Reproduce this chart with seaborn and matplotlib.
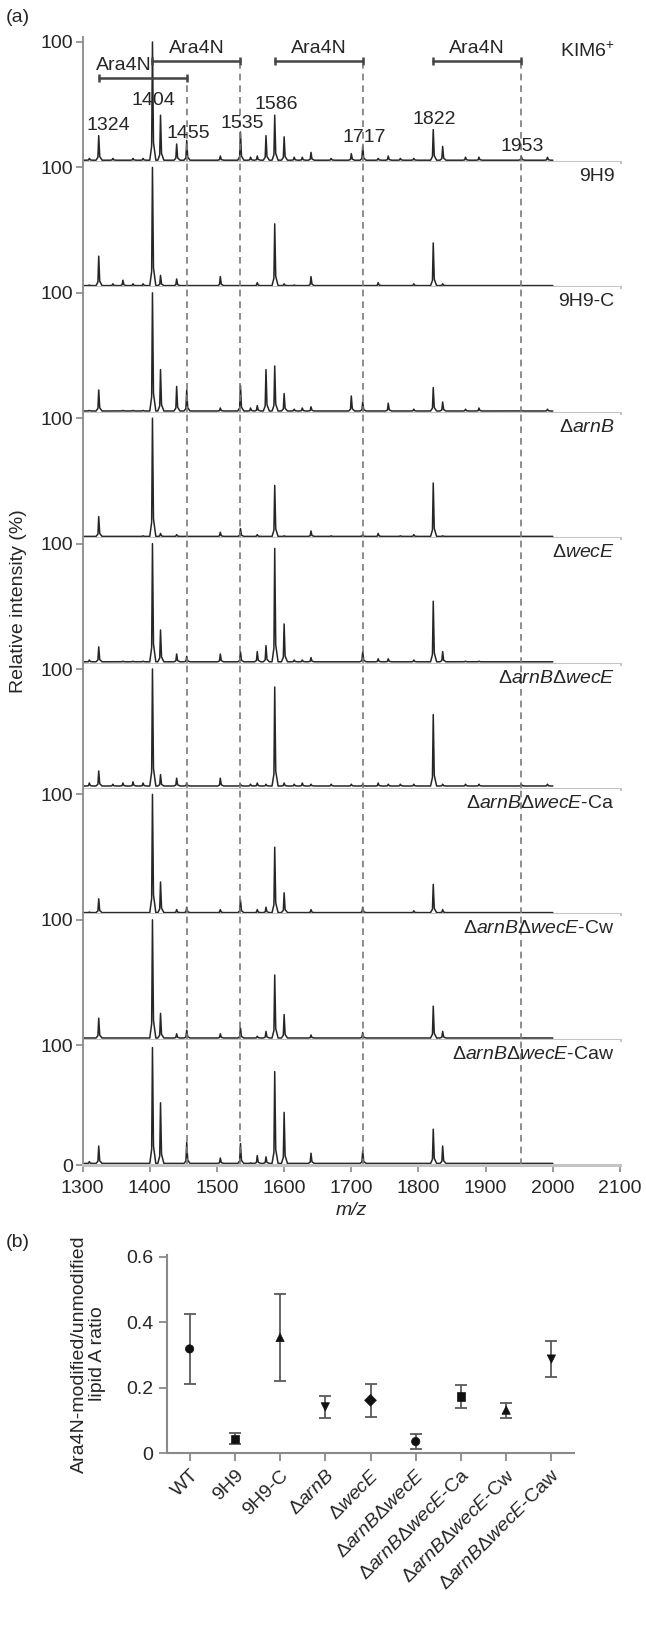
import numpy as np
import pandas as pd
import matplotlib.pyplot as plt
import seaborn as sns

# Style
sns.set_theme(style='white')
plt.rcParams['font.family'] = ['Liberation Sans', 'DejaVu Sans']
plt.rcParams['mathtext.fontset'] = 'custom'
plt.rcParams['mathtext.rm'] = 'Liberation Sans'
plt.rcParams['mathtext.it'] = 'Liberation Sans:italic'
plt.rcParams['mathtext.bf'] = 'Liberation Sans:bold'

FS = 14

# -------------------- data: (a) MALDI spectra --------------------
strain_labels = ['KIM6$^{+}$', '9H9', '9H9-C', r'Δ$\it{arnB}$', r'Δ$\it{wecE}$',
                 r'Δ$\it{arnB}$Δ$\it{wecE}$', r'Δ$\it{arnB}$Δ$\it{wecE}$-Ca',
                 r'Δ$\it{arnB}$Δ$\it{wecE}$-Cw', r'Δ$\it{arnB}$Δ$\it{wecE}$-Caw']

# peak positions (m/z) shared by all spectra
peak_mz = [1310, 1324, 1345, 1360, 1375, 1390, 1404, 1416, 1440, 1455,
           1505, 1535, 1550, 1560, 1573, 1586, 1600, 1615, 1627, 1640,
           1670, 1700, 1717, 1740, 1755, 1773, 1793, 1822, 1836, 1870,
           1890, 1953, 1992]

# relative intensities (%) of those peaks, one list per strain
kim6 = [3, 22, 3, 0, 3, 3, 100, 39, 15, 18, 5, 25, 4, 5, 22, 39, 21, 4, 4, 8,
        3, 7, 13, 3, 5, 3, 3, 27, 13, 4, 4, 5, 4]
h9h9 = [2, 26, 3, 6, 3, 3, 100, 10, 7, 0, 9, 0, 0, 4, 0, 53, 3, 2, 0, 9,
        0, 0, 0, 4, 0, 0, 3, 37, 3, 0, 0, 0, 0]
h9h9c = [2, 19, 0, 2, 2, 2, 100, 36, 22, 19, 4, 23, 4, 6, 36, 39, 16, 3, 4, 5,
         0, 14, 9, 0, 8, 0, 3, 21, 9, 3, 4, 2, 3]
arnB = [0, 18, 0, 0, 0, 2, 100, 4, 3, 0, 5, 8, 0, 3, 0, 44, 2, 0, 0, 6,
        2, 0, 3, 4, 0, 2, 3, 46, 2, 0, 0, 0, 0]
wecE = [3, 14, 0, 2, 2, 2, 100, 28, 8, 6, 8, 10, 0, 10, 15, 96, 33, 3, 3, 5,
        0, 0, 10, 4, 4, 0, 3, 52, 10, 2, 2, 0, 0]
arnB_wecE = [5, 15, 4, 5, 6, 5, 100, 12, 9, 5, 9, 4, 4, 5, 4, 85, 5, 4, 5, 4,
             4, 4, 4, 5, 4, 4, 4, 62, 4, 4, 4, 4, 4]
ca = [2, 13, 0, 0, 0, 0, 100, 27, 4, 6, 4, 12, 0, 4, 6, 56, 18, 0, 0, 4,
      0, 0, 6, 0, 0, 0, 3, 25, 4, 0, 0, 0, 0]
cw = [0, 18, 0, 0, 0, 0, 100, 22, 5, 8, 5, 10, 0, 3, 7, 54, 21, 0, 0, 4,
      0, 0, 6, 0, 0, 0, 0, 28, 7, 0, 0, 0, 0]
caw = [3, 16, 0, 0, 0, 0, 98, 52, 0, 19, 6, 18, 2, 8, 7, 78, 44, 0, 0, 10,
       0, 0, 12, 0, 0, 0, 0, 30, 16, 0, 0, 0, 0]
spectra = [kim6, h9h9, h9h9c, arnB, wecE, arnB_wecE, ca, cw, caw]
baseline = [1.5, 1.5, 1.5, 1.5, 1.5, 2.5, 1.5, 1.5, 1.5]

# annotated peaks in the top spectrum
label_mz = [1324, 1404, 1455, 1535, 1586, 1717, 1822, 1953]
label_y = [30, 51, 24, 32, 48, 20, 35, 13]

# Ara4N mass shifts
ara_start = [1324, 1404, 1586, 1822]
ara_end = [1455, 1535, 1717, 1953]
ara_y = [70, 84, 84, 84]

mz_ticks = [1300, 1400, 1500, 1600, 1700, 1800, 1900, 2000, 2100]

# -------------------- data: (b) ratio --------------------
ratio_labels = ['WT', '9H9', '9H9-C', r'Δ$\it{arnB}$', r'Δ$\it{wecE}$',
                r'Δ$\it{arnB}$Δ$\it{wecE}$', r'Δ$\it{arnB}$Δ$\it{wecE}$-Ca',
                r'Δ$\it{arnB}$Δ$\it{wecE}$-Cw', r'Δ$\it{arnB}$Δ$\it{wecE}$-Caw']
ratio_mean = [0.318, 0.043, 0.353, 0.141, 0.161, 0.035, 0.173, 0.131, 0.287]
ratio_err = [0.107, 0.017, 0.133, 0.034, 0.050, 0.022, 0.036, 0.023, 0.055]
ratio_marker = ['o', 's', '^', 'v', 'D', 'o', 's', '^', 'v']


def spectrum_frame(heights, base):
    # turn the peak list into a stick-like trace
    xs, ys = [1302], [base]
    for m, h in zip(peak_mz, heights):
        if h <= base:
            continue
        xs += [m - 4, m - 1.2, m, m + 1.5, m + 5]
        ys += [base, base + 0.12 * (h - base), h, base + 0.15 * (h - base), base]
    xs.append(2000)
    ys.append(base)
    return pd.DataFrame({'mz': xs, 'intensity': ys})


W, H = 646, 1635
fig = plt.figure(figsize=(W / 100, H / 100), dpi=100)

ax_left, ax_right = 82.6, 620
panel_h = 125.4
dash_kw = dict(color='#7a7a7a', lw=1.2, linestyle=(0, (4, 3)))

for i, (name, heights) in enumerate(zip(strain_labels, spectra)):
    bottom_px = 162 + panel_h * i
    ax = fig.add_axes([ax_left / W, 1 - bottom_px / H, (ax_right - ax_left) / W, panel_h / H])
    df = spectrum_frame(heights, baseline[i])
    sns.lineplot(data=df, x='mz', y='intensity', ax=ax, estimator=None, sort=False,
                 color='#262626', lw=1.1)
    ax.set_xlim(1300, 2100)
    ax.set_ylim(0, 104.5)
    ax.set_xlabel('')
    ax.set_ylabel('')
    for s in ['top', 'right']:
        ax.spines[s].set_visible(False)
    ax.spines['left'].set_color('#8a8a8a')
    ax.spines['left'].set_linewidth(1.3)
    ax.spines['bottom'].set_color('#c4c4c4')
    ax.spines['bottom'].set_linewidth(2.2)
    ax.tick_params(axis='y', left=True, length=5, width=1.2, color='#8a8a8a', pad=2, labelsize=FS)
    ax.text(0.99, 0.885, name, transform=ax.transAxes, ha='right', va='center', fontsize=FS)

    if i == 0:
        for x0, x1, y in zip(ara_start, ara_end, ara_y):
            ax.plot([x0, x1], [y, y], color='#444444', lw=1.8)
            ax.vlines([x0, x1], y - 3.5, y + 3.5, color='#444444', lw=1.8)
            ax.vlines(x1, 0, y - 3.5, **dash_kw)
        for k, (x0, x1, y) in enumerate(zip(ara_start, ara_end, ara_y)):
            tx = (x0 + x1) / 2 - (28 if k == 0 else 0)
            ax.text(tx, y + 10.5, 'Ara4N', ha='center', va='center', fontsize=FS)
        for m, y in zip(label_mz, label_y):
            ax.text(m + (15 if m == 1324 else 2), y, str(m), ha='center', va='center', fontsize=FS)
    else:
        for x1 in ara_end:
            ax.axvline(x1, **dash_kw)

    if i == len(spectra) - 1:
        ax.set_yticks([0, 100])
        ax.set_yticklabels(['0', '100'])
        ax.set_xticks(mz_ticks)
        ax.set_xticklabels([str(t) for t in mz_ticks])
        ax.tick_params(axis='x', bottom=True, length=5, width=1.2, color='#8a8a8a', pad=6, labelsize=FS)
        ax.set_xlabel('m/z', style='italic', fontsize=FS, labelpad=3)
    else:
        ax.set_yticks([100])
        ax.set_yticklabels(['100'])
        ax.set_xticks([])

fig.text(19 / W, 1 - 601 / H, 'Relative intensity (%)', rotation=90, ha='center', va='center', fontsize=FS)
fig.text(6 / W, 1 - 17 / H, '(a)', ha='left', va='center', fontsize=FS)
fig.text(6 / W, 1 - 1242 / H, '(b)', ha='left', va='center', fontsize=FS)

# -------------------- (b) Ara4N-modified / unmodified ratio --------------------
b_left, b_right, b_top, b_bottom = 167, 574, 1255, 1453
axb = fig.add_axes([b_left / W, 1 - b_bottom / H, (b_right - b_left) / W, (b_bottom - b_top) / H])
pos = np.arange(len(ratio_labels))
axb.errorbar(pos, ratio_mean, yerr=ratio_err, fmt='none', ecolor='#5a5a5a',
             elinewidth=1.3, capsize=4, capthick=1.3, zorder=2)
df_b = pd.DataFrame({'pos': pos, 'ratio': ratio_mean, 'strain': ratio_labels})
sns.scatterplot(data=df_b, x='pos', y='ratio', style='strain',
                markers=dict(zip(ratio_labels, ratio_marker)), color='#111111',
                s=36, edgecolor='#111111', legend=False, ax=axb, zorder=3)
axb.set_xlim(-0.5, 8.5)
axb.set_ylim(0, 0.605)
axb.set_yticks([0, 0.2, 0.4, 0.6])
axb.set_yticklabels(['0', '0.2', '0.4', '0.6'])
axb.set_xticks(pos)
axb.set_xticklabels(ratio_labels, rotation=45, ha='right', rotation_mode='anchor')
axb.set_xlabel('')
axb.set_ylabel('Ara4N-modified/unmodified\nlipid A ratio', fontsize=FS, labelpad=14, linespacing=1.1)
for s in ['top', 'right']:
    axb.spines[s].set_visible(False)
for s in ['left', 'bottom']:
    axb.spines[s].set_color('#8a8a8a')
    axb.spines[s].set_linewidth(1.5)
axb.tick_params(axis='both', left=True, bottom=True, length=6, width=1.3, color='#8a8a8a', pad=4, labelsize=FS)

fig.savefig('out.png', dpi=100, facecolor='white')
